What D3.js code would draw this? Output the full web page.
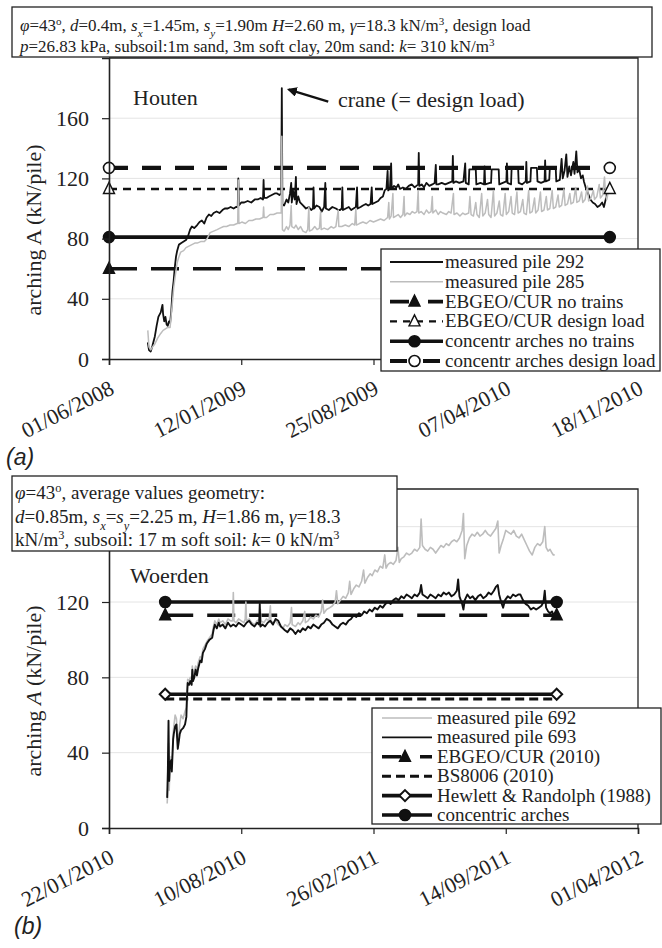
<!DOCTYPE html>
<html>
<head>
<meta charset="utf-8">
<script src="https://cdn.jsdelivr.net/npm/d3@7"></script>
<style>
  body { margin: 0; background: #fff; }
  svg { display: block; font-family: "Liberation Serif", "Times New Roman", serif; }
</style>
</head>
<body>
<div id="chart"></div>
<script>
// ---- data (Houten, panel a) : [days since 01/06/2008, kN/pile] ----
const houtenStart = "2008-06-01";
const houtenEnd = "2010-11-18";
const houtenTicks = ["2008-06-01", "2009-01-12", "2009-08-25", "2010-04-07", "2010-11-18"];
const houtenYTicks = [0, 40, 80, 120, 160];
const houtenRefNames = ["EBGEO/CUR no trains", "EBGEO/CUR design load", "concentr arches no trains", "concentr arches design load"];
const houtenRefValues = [60, 113, 81, 127];
const houtenRefSpan = [0, 852];
const crane = { from: [373, 171], to: [306, 179] };

const pile292 = [[66,11],[68,6],[71,5],[74,9],[78,15],[81,22],[84,28],[88,31],[91,36],[92,30],[94,25],[96,28],[98,23],[100,22],[102,25],[104,24],[106,32],[108,45],[110,52],[112,61],[114,68],[116,72],[119,76],[123,77],[127,78],[131,79],[134,81],[138,86],[141,88],[145,87],[150,89],[154,91],[158,92],[162,90],[166,94],[170,96],[174,95],[178,97],[183,98],[188,97],[193,99],[197,100],[202,100],[207,101],[212,100],[216,101],[219,101],[220,120],[221,102],[225,104],[230,104],[236,105],[242,104],[248,106],[253,106],[258,107],[262,106],[263,119],[264,107],[268,107],[272,108],[277,109],[282,110],[286,110],[290,109],[293,110],[294,180],[295,103],[298,102],[302,106],[305,104],[308,110],[310,117],[311,104],[313,112],[316,106],[318,121],[319,103],[322,108],[325,104],[330,102],[335,100],[340,101],[344,99],[347,100],[348,114],[349,100],[353,102],[358,101],[362,98],[366,101],[368,117],[369,100],[374,99],[380,101],[386,100],[390,99],[393,99],[396,100],[397,114],[398,99],[403,100],[408,101],[412,99],[416,100],[420,101],[422,114],[423,100],[428,101],[432,102],[437,103],[441,102],[445,103],[447,114],[448,103],[453,104],[458,105],[462,107],[466,108],[469,112],[472,113],[474,125],[475,112],[478,114],[480,130],[481,113],[485,115],[489,114],[492,116],[495,113],[500,114],[505,113],[510,115],[515,116],[520,114],[526,116],[527,137],[528,115],[532,116],[536,114],[540,117],[545,115],[550,116],[554,117],[556,129],[557,116],[560,116],[566,117],[572,116],[578,117],[584,118],[585,135],[586,117],[590,118],[596,117],[603,118],[606,130],[607,117],[612,116],[613,126],[624,126],[625,116],[632,117],[638,116],[639,128],[640,116],[648,117],[650,117],[651,126],[663,126],[664,116],[670,117],[676,118],[677,130],[678,117],[684,116],[685,127],[696,127],[697,117],[703,116],[709,118],[710,131],[711,117],[717,118],[718,127],[728,127],[729,118],[735,117],[741,118],[742,132],[743,118],[749,119],[750,127],[760,127],[761,118],[767,119],[770,133],[772,120],[775,125],[778,136],[780,121],[783,128],[786,122],[790,131],[792,123],[795,138],[797,124],[800,126],[803,120],[806,122],[808,118],[811,114],[815,110],[819,106],[823,104],[827,103],[831,101],[835,102],[839,104],[842,101],[845,106],[847,110],[849,112]];

const pile285 = [[66,19],[68,8],[71,6],[74,8],[78,10],[83,14],[88,17],[92,19],[96,20],[100,21],[104,21],[106,30],[108,38],[110,47],[113,56],[116,64],[119,68],[122,71],[127,72],[131,74],[136,75],[141,76],[146,77],[150,77],[156,78],[162,78],[167,80],[172,84],[178,85],[184,86],[189,87],[195,88],[200,88],[206,89],[212,89],[218,90],[219,90],[220,119],[221,90],[226,91],[232,90],[238,92],[244,92],[250,93],[256,93],[262,94],[263,101],[264,94],[268,94],[274,96],[280,96],[286,97],[290,97],[293,97],[294,148],[295,86],[298,85],[302,88],[305,86],[308,89],[310,102],[311,88],[315,87],[318,89],[322,86],[326,88],[330,85],[335,84],[338,86],[340,101],[341,85],[346,86],[350,88],[354,86],[358,87],[360,98],[361,86],[366,87],[372,86],[378,88],[382,87],[386,88],[390,99],[391,88],[396,88],[402,89],[408,88],[414,90],[418,89],[420,100],[421,89],[426,90],[432,91],[438,90],[444,92],[450,91],[456,92],[462,93],[468,92],[474,94],[476,104],[477,93],[480,95],[483,110],[484,94],[488,95],[492,96],[496,94],[500,96],[502,108],[503,95],[507,97],[512,96],[516,98],[520,97],[524,98],[526,112],[527,97],[531,98],[536,96],[540,99],[544,97],[548,98],[550,108],[551,97],[556,99],[560,96],[564,98],[568,97],[574,96],[578,98],[582,97],[586,110],[587,96],[592,97],[597,95],[602,97],[606,96],[612,97],[614,108],[616,96],[620,95],[624,104],[626,96],[630,94],[634,110],[636,95],[640,97],[644,106],[646,96],[650,94],[654,112],[656,95],[660,97],[664,105],[666,96],[670,95],[674,110],[676,96],[680,98],[684,108],[686,97],[690,96],[694,111],[696,97],[700,98],[704,106],[706,97],[710,96],[714,112],[716,97],[720,98],[724,107],[726,97],[730,99],[734,111],[736,98],[740,99],[744,108],[746,99],[750,100],[754,112],[756,100],[760,101],[764,109],[766,101],[770,102],[774,113],[776,102],[780,103],[784,110],[786,103],[790,104],[794,114],[796,104],[800,105],[804,111],[806,104],[810,106],[814,115],[816,105],[820,107],[824,112],[826,106],[830,108],[834,116],[836,107],[840,109],[843,121],[845,108],[847,106],[849,110]];

// ---- data (Woerden, panel b) : [days since 22/01/2010, kN/pile] ----
const woerdenStart = "2010-01-22";
const woerdenEnd = "2012-04-01";
const woerdenTicks = ["2010-01-22", "2010-08-10", "2011-02-26", "2011-09-14", "2012-04-01"];
const woerdenYTicks = [0, 40, 80, 120, 160];
const woerdenRefNames = ["EBGEO/CUR (2010)", "BS8006 (2010)", "Hewlett & Randolph (1988)", "concentric arches"];
const woerdenRefValues = [113, 68.5, 71, 120];
const woerdenRefSpan = [85, 677];

const pile692 = [[88,13],[89,22],[90,45],[91,20],[92,30],[94,38],[95,33],[97,50],[98,54],[100,60],[102,58],[103,52],[104,46],[106,50],[107,55],[109,60],[112,58],[115,62],[117,64],[118,72],[119,79],[121,78],[123,80],[125,79],[126,86],[127,80],[129,83],[131,86],[133,84],[135,88],[138,91],[140,90],[142,95],[145,97],[148,99],[152,101],[156,103],[158,107],[160,110],[163,108],[166,111],[168,109],[172,110],[176,108],[180,111],[184,110],[187,110],[188,125],[189,110],[192,109],[196,111],[200,110],[204,109],[206,111],[207,120],[208,110],[212,111],[216,109],[220,108],[224,110],[228,111],[229,116],[230,110],[234,109],[238,111],[242,110],[244,118],[245,110],[248,109],[252,110],[256,108],[260,107],[263,106],[266,108],[270,107],[274,109],[276,117],[277,108],[282,107],[286,109],[289,108],[293,110],[296,115],[297,109],[301,110],[305,112],[309,111],[313,113],[317,112],[321,115],[323,121],[325,114],[329,116],[334,117],[338,118],[342,120],[344,126],[346,119],[350,121],[354,123],[358,122],[362,125],[364,131],[366,124],[370,127],[374,129],[378,128],[382,131],[385,137],[387,130],[391,133],[395,135],[398,134],[402,137],[406,136],[410,139],[414,138],[417,145],[419,138],[422,140],[426,141],[430,140],[434,142],[437,149],[439,141],[442,143],[446,144],[450,146],[454,145],[458,146],[462,148],[466,147],[470,149],[472,164],[474,150],[478,148],[482,147],[486,149],[490,148],[494,146],[498,148],[502,150],[506,149],[510,151],[514,150],[518,152],[522,153],[526,152],[530,154],[534,158],[536,167],[538,143],[541,150],[545,154],[549,156],[553,155],[557,157],[561,155],[565,156],[569,158],[573,156],[577,155],[581,157],[585,159],[588,163],[590,146],[593,150],[596,153],[600,158],[604,157],[608,156],[612,158],[616,155],[620,154],[624,156],[628,153],[632,150],[636,147],[640,145],[644,149],[648,151],[652,150],[656,152],[659,160],[661,149],[664,147],[667,148],[670,146],[672,145],[674,145]];

const pile693 = [[88,16],[89,30],[90,57],[91,25],[92,33],[94,36],[95,30],[97,47],[98,50],[100,54],[102,55],[103,48],[104,42],[106,47],[107,50],[109,52],[112,53],[115,55],[117,59],[118,70],[119,77],[121,76],[123,78],[125,76],[126,84],[127,78],[129,80],[131,84],[133,81],[135,85],[138,89],[140,88],[142,93],[145,95],[148,98],[152,100],[156,101],[158,105],[160,108],[163,106],[166,109],[168,107],[172,108],[176,106],[180,109],[184,107],[188,108],[192,107],[196,109],[200,108],[204,107],[208,109],[212,110],[216,108],[220,107],[224,109],[227,108],[228,119],[229,107],[232,108],[236,107],[240,109],[244,110],[248,108],[252,111],[256,110],[260,107],[263,106],[266,105],[270,104],[274,106],[278,105],[282,103],[286,105],[289,104],[293,106],[297,105],[301,107],[305,106],[309,108],[313,107],[317,106],[321,108],[325,109],[329,111],[334,110],[338,108],[342,107],[346,106],[350,108],[354,109],[358,108],[362,110],[366,111],[370,113],[374,112],[378,114],[382,113],[386,115],[390,114],[394,116],[398,115],[402,117],[406,116],[410,118],[414,117],[418,119],[422,120],[426,119],[430,121],[434,122],[438,121],[442,123],[446,122],[450,124],[454,123],[458,122],[462,124],[466,123],[470,125],[472,129],[474,124],[478,123],[482,122],[486,124],[490,123],[494,122],[498,124],[502,123],[506,125],[510,124],[514,125],[518,123],[522,124],[526,126],[528,132],[530,123],[534,119],[536,116],[538,121],[542,124],[546,122],[550,123],[554,121],[558,123],[562,124],[566,122],[570,123],[574,125],[578,124],[582,126],[585,128],[588,129],[590,124],[593,120],[596,117],[599,121],[603,123],[607,122],[611,124],[615,123],[619,124],[622,124],[626,121],[630,119],[634,118],[638,116],[642,117],[646,116],[650,117],[654,118],[657,120],[659,126],[661,117],[664,115],[667,114],[670,115],[672,113],[674,114]];

// ---- drawing ----
const W = 662, H = 948;
const svg = d3.select('#chart').append('svg').attr('width', W).attr('height', H);
const parse = d3.timeParse('%Y-%m-%d');
const fmtTick = d3.timeFormat('%d/%m/%Y');
const INK = '#111';
const GREY = '#bdbdbd';
const SERIF = '"Liberation Serif", "Times New Roman", serif';

function marker(sel, type, fill, cx, cy) {
  if (type === 'circle') {
    sel.append('circle').attr('cx', cx).attr('cy', cy).attr('r', 5.5)
      .attr('fill', fill).attr('stroke', INK).attr('stroke-width', 1.6);
  } else if (type === 'triangle') {
    sel.append('path').attr('d', `M${cx},${cy - 6.5}L${cx + 5.5},${cy + 4.5}L${cx - 5.5},${cy + 4.5}Z`)
      .attr('fill', fill).attr('stroke', INK).attr('stroke-width', 1.4);
  } else if (type === 'diamond') {
    sel.append('path').attr('d', `M${cx},${cy - 5.5}L${cx + 5.5},${cy}L${cx},${cy + 5.5}L${cx - 5.5},${cy}Z`)
      .attr('fill', fill).attr('stroke', INK).attr('stroke-width', 2);
  }
}

function richLine(textSel, parts) {
  parts.forEach(([t, s]) => {
    const ts = textSel.append('tspan').text(t);
    if (s && s.includes('i')) ts.attr('font-style', 'italic');
    if (s && s.includes('sub')) ts.attr('baseline-shift', 'sub').attr('font-size', '0.65em');
    if (s && s.includes('sup')) ts.attr('baseline-shift', 'super').attr('font-size', '0.65em');
  });
}

function drawPanel(p) {
  const start = parse(p.start);
  const x = d3.scaleTime().domain([start, parse(p.end)]).range([109, 638]);
  const y = d3.scaleLinear().domain(p.yDomain).range([p.bottom, p.top]);
  const day = d => d3.timeDay.offset(start, d);
  const g = svg.append('g');

  // gridlines
  g.append('g').selectAll('line').data(p.yTicks.filter(v => v > 0)).join('line')
    .attr('x1', 109).attr('x2', 638).attr('y1', y).attr('y2', y)
    .attr('stroke', '#e4e4e4').attr('stroke-width', 1);

  // frame top / right
  g.append('path').attr('d', `M109,${p.top}H638V${p.bottom}`)
    .attr('fill', 'none').attr('stroke', '#222').attr('stroke-width', 1.3);

  // reference lines
  p.refValues.forEach((v, i) => {
    const st = p.styles[i];
    g.append('line')
      .attr('x1', x(day(p.refSpan[0]))).attr('x2', x(day(p.refSpan[1])))
      .attr('y1', y(v)).attr('y2', y(v))
      .attr('stroke', INK).attr('stroke-width', st.width)
      .attr('stroke-dasharray', st.dash);
  });

  // measured series
  const line = d3.line().x(d => x(day(d[0]))).y(d => y(d[1]));
  p.series.forEach(s => {
    g.append('path').datum(s.data).attr('d', line)
      .attr('fill', 'none').attr('stroke', s.color).attr('stroke-width', s.width)
      .attr('stroke-linejoin', 'round');
  });

  // reference markers
  p.refValues.forEach((v, i) => {
    const st = p.styles[i];
    if (!st.marker) return;
    p.refSpan.forEach(d => marker(g, st.marker, st.fill, x(day(d)), y(v)));
  });

  // axes (labels above labelMax sit under the text box, so they are not drawn)
  const yAxis = d3.axisLeft(y).tickValues(p.yTicks.filter(v => v <= p.labelMax))
    .tickSize(7).tickPadding(13).tickFormat(d3.format('d'));
  const ya = g.append('g').attr('transform', 'translate(109,0)').call(yAxis);
  const xAxis = d3.axisBottom(x).tickValues(p.xTicks.map(parse)).tickSize(6).tickFormat(fmtTick);
  const xa = g.append('g').attr('transform', `translate(0,${p.bottom})`).call(xAxis);
  [ya, xa].forEach(a => {
    a.select('.domain').attr('stroke', '#222').attr('stroke-width', 1.6);
    a.selectAll('.tick line').attr('stroke', '#222').attr('stroke-width', 1.2);
    a.selectAll('text').attr('font-family', SERIF).attr('font-size', 22).attr('fill', '#222');
  });
  xa.selectAll('.tick text')
    .attr('x', 0).attr('y', 0).attr('dy', 0)
    .attr('text-anchor', 'end')
    .attr('transform', 'translate(6,34) rotate(-27)');

  // y axis label
  const yl = g.append('text').attr('text-anchor', 'middle')
    .attr('transform', `translate(41,${p.ylabelY}) rotate(-90)`)
    .attr('font-size', 22).attr('fill', '#222');
  richLine(yl, [['arching '], ['A', p.italicA ? 'i' : ''], [' (kN/pile)']]);

  // site name
  g.append('text').attr('x', p.site.x).attr('y', p.site.y).attr('font-size', 22).attr('fill', '#222').text(p.site.name);

  return { g, x, y, day };
}

// styles for the reference lines
const houtenStyles = [
  { width: 3.6, dash: '28,14', legendDash: '19,19', marker: 'triangle', fill: INK },
  { width: 2.4, dash: '8,6', legendDash: '7,6', marker: 'triangle', fill: '#fff' },
  { width: 3.6, dash: null, legendDash: null, marker: 'circle', fill: INK },
  { width: 4.2, dash: '19,14', legendDash: '17,16', marker: 'circle', fill: '#fff' }
];
const woerdenStyles = [
  { width: 3.6, dash: '28,14', legendDash: '19,19', marker: 'triangle', fill: INK },
  { width: 3.0, dash: '9,5', legendDash: '9,5', marker: null },
  { width: 3.6, dash: null, legendDash: null, marker: 'diamond', fill: '#fff' },
  { width: 3.4, dash: null, legendDash: null, marker: 'circle', fill: INK }
];

// ---- panel (a) ----
const A = drawPanel({
  start: houtenStart, end: houtenEnd, xTicks: houtenTicks, yTicks: houtenYTicks, labelMax: 160,
  yDomain: [0, 200], top: 58, bottom: 359,
  refValues: houtenRefValues, refSpan: houtenRefSpan, styles: houtenStyles,
  series: [
    { data: pile292, color: INK, width: 1.8 },
    { data: pile285, color: GREY, width: 1.5 }
  ],
  ylabelY: 230, italicA: false,
  site: { name: 'Houten', x: 133, y: 105 }
});

// crane annotation
svg.append('defs').append('marker').attr('id', 'arr').attr('viewBox', '0 0 10 10')
  .attr('refX', 8).attr('refY', 5).attr('markerWidth', 4.5).attr('markerHeight', 4.5)
  .attr('orient', 'auto').append('path').attr('d', 'M0,0L10,5L0,10Z').attr('fill', INK);
A.g.append('line')
  .attr('x1', A.x(A.day(crane.from[0]))).attr('y1', A.y(crane.from[1]))
  .attr('x2', A.x(A.day(crane.to[0]))).attr('y2', A.y(crane.to[1]))
  .attr('stroke', INK).attr('stroke-width', 2.2).attr('marker-end', 'url(#arr)');
A.g.append('text').attr('x', 338).attr('y', 107).attr('font-size', 22).attr('fill', '#222')
  .text('crane (= design load)');

// ---- panel (b) ----
const B = drawPanel({
  start: woerdenStart, end: woerdenEnd, xTicks: woerdenTicks, yTicks: woerdenYTicks, labelMax: 120,
  yDomain: [0, 180], top: 489, bottom: 828,
  refValues: woerdenRefValues, refSpan: woerdenRefSpan, styles: woerdenStyles,
  series: [
    { data: pile692, color: GREY, width: 1.6 },
    { data: pile693, color: INK, width: 1.9 }
  ],
  ylabelY: 691, italicA: true,
  site: { name: 'Woerden', x: 130, y: 583 }
});

// ---- text boxes ----
function textBox(x0, y0, w, h, lines, x, firstBase, step, size) {
  const g = svg.append('g');
  g.append('rect').attr('x', x0).attr('y', y0).attr('width', w).attr('height', h)
    .attr('fill', '#fff').attr('stroke', '#222').attr('stroke-width', 1.3);
  lines.forEach((parts, i) => {
    const t = g.append('text').attr('x', x).attr('y', firstBase + i * step)
      .attr('font-size', size).attr('fill', '#222');
    richLine(t, parts);
  });
}

textBox(12, 7, 640, 50, [
  [['φ', 'i'], ['=43'], ['o', 'sup'], [', '], ['d', 'i'], ['=0.4m, '], ['s', 'i'], ['x', 'isub'], ['=1.45m, '],
   ['s', 'i'], ['y', 'isub'], ['=1.90m '], ['H', 'i'], ['=2.60 m, '], ['γ', 'i'], ['=18.3 kN/m'], ['3', 'sup'], [', design load']],
  [['p', 'i'], ['=26.83 kPa, subsoil:1m sand, 3m soft clay, 20m sand: '], ['k', 'i'], ['= 310 kN/m'], ['3', 'sup']]
], 20, 31, 20.5, 17);

textBox(12, 476, 385, 75, [
  [['φ', 'i'], ['=43'], ['o', 'sup'], [', average values geometry:']],
  [['d', 'i'], ['=0.85m, '], ['s', 'i'], ['x', 'isub'], ['='], ['s', 'i'], ['y', 'isub'], ['=2.25 m, '],
   ['H', 'i'], ['=1.86 m, '], ['γ', 'i'], ['=18.3']],
  [['kN/m'], ['3', 'sup'], [', subsoil: 17 m soft soil: '], ['k', 'i'], ['= 0 kN/m'], ['3', 'sup']]
], 15, 499, 23.5, 19);

// ---- legends ----
function legend(x0, y0, w, h, rows, sx0, sx1, tx, firstY, step) {
  const g = svg.append('g');
  g.append('rect').attr('x', x0).attr('y', y0).attr('width', w).attr('height', h)
    .attr('fill', '#fff').attr('stroke', '#222').attr('stroke-width', 1.3);
  rows.forEach((r, i) => {
    const cy = firstY + i * step;
    g.append('line').attr('x1', sx0).attr('x2', sx1).attr('y1', cy).attr('y2', cy)
      .attr('stroke', r.color || INK).attr('stroke-width', r.width)
      .attr('stroke-dasharray', r.legendDash || null);
    if (r.marker) marker(g, r.marker, r.fill, (sx0 + sx1) / 2 - 2, cy);
    g.append('text').attr('x', tx).attr('y', cy + 6).attr('font-size', 19).attr('fill', '#222').text(r.name);
  });
}

legend(381, 249, 279, 122, [
  { name: 'measured pile 292', color: INK, width: 1.8 },
  { name: 'measured pile 285', color: GREY, width: 1.6 },
  ...houtenRefNames.map((n, i) => Object.assign({ name: n }, houtenStyles[i]))
], 390, 443, 445, 262, 19.8);

legend(372, 708, 289, 116, [
  { name: 'measured pile 692', color: GREY, width: 1.6 },
  { name: 'measured pile 693', color: INK, width: 1.8 },
  ...woerdenRefNames.map((n, i) => Object.assign({ name: n }, woerdenStyles[i]))
], 382, 432, 437, 718, 19.4);

// ---- panel letters ----
svg.append('text').attr('x', 6).attr('y', 465).attr('font-family', '"Liberation Sans", Arial, sans-serif')
  .attr('font-style', 'italic').attr('font-size', 23).attr('fill', '#222').text('(a)');
svg.append('text').attr('x', 14).attr('y', 934).attr('font-family', '"Liberation Sans", Arial, sans-serif')
  .attr('font-style', 'italic').attr('font-size', 23).attr('fill', '#222').text('(b)');
</script>
</body>
</html>
